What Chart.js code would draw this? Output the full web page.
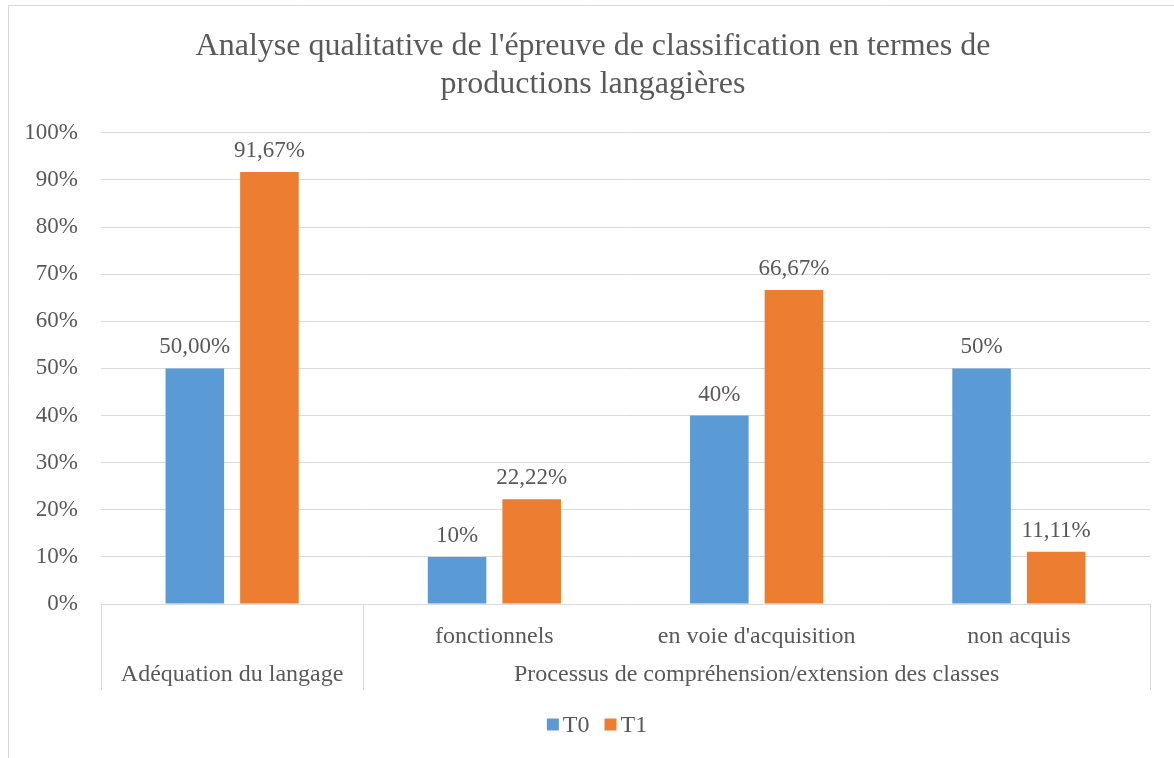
<!DOCTYPE html>
<html>
<head>
<meta charset="utf-8">
<script src="https://cdn.jsdelivr.net/npm/chart.js@4.4.1/dist/chart.umd.min.js"></script>
<style>
  html, body { margin: 0; padding: 0; background: #ffffff; }
  #wrap { width: 1174px; height: 758px; position: relative; }
</style>
</head>
<body>
<div id="wrap"><canvas id="c"></canvas></div>
<script>
const titleLines = ["Analyse qualitative de l'épreuve de classification en termes de", "productions langagières"];
const categories = ["", "fonctionnels", "en voie d'acquisition", "non acquis"];
const seriesNames = ["T0", "T1"];
const t0Values = [50, 10, 40, 50];
const t1Values = [91.67, 22.22, 66.67, 11.11];
const t0Labels = ["50,00%", "10%", "40%", "50%"];
const t1Labels = ["91,67%", "22,22%", "66,67%", "11,11%"];
const groupLabels = ["Adéquation du langage", "Processus de compréhension/extension des classes"];
const groupStart = [0, 1];
const groupEnd = [0, 3];
const yMin = 0, yMax = 100, yStep = 10;

const SERIF = "'Liberation Serif', 'Times New Roman', serif";
const TEXT = '#595959';
const GRID = '#d9d9d9';
const COLORS = ['#5B9BD5', '#ED7D31'];
Chart.defaults.font.family = SERIF;
Chart.defaults.color = TEXT;

const frame = {
  id: 'frame',
  beforeDraw(chart) {
    const ctx = chart.ctx;
    ctx.save();
    ctx.strokeStyle = GRID;
    ctx.lineWidth = 1;
    ctx.beginPath();
    ctx.moveTo(8.5, chart.height);
    ctx.lineTo(8.5, 5.5);
    ctx.lineTo(chart.width, 5.5);
    ctx.stroke();
    ctx.restore();
  }
};

const barLabels = {
  id: 'barLabels',
  afterDatasetsDraw(chart) {
    const ctx = chart.ctx;
    const all = [t0Labels, t1Labels];
    ctx.save();
    ctx.font = "23px " + SERIF;
    ctx.fillStyle = TEXT;
    ctx.textAlign = 'center';
    ctx.textBaseline = 'alphabetic';
    chart.data.datasets.forEach((ds, di) => {
      const meta = chart.getDatasetMeta(di);
      meta.data.forEach((el, i) => {
        ctx.fillText(all[di][i], el.x, el.y - 15);
      });
    });
    ctx.restore();
  }
};

const groups = {
  id: 'groups',
  afterDraw(chart) {
    const xs = chart.scales.x;
    const ctx = chart.ctx;
    const n = categories.length;
    const cw = (xs.right - xs.left) / n;
    const top = chart.chartArea.bottom;
    const bottom = top + 86;
    ctx.save();
    ctx.strokeStyle = GRID;
    ctx.lineWidth = 1;
    const edges = new Set();
    for (let g = 0; g < groupLabels.length; g++) {
      const l = xs.getPixelForValue(groupStart[g]) - cw / 2;
      const r = xs.getPixelForValue(groupEnd[g]) + cw / 2;
      edges.add(Math.round(l)); edges.add(Math.round(r));
      ctx.font = "24px " + SERIF;
      ctx.fillStyle = TEXT;
      ctx.textAlign = 'center';
      ctx.textBaseline = 'middle';
      ctx.fillText(groupLabels[g], (l + r) / 2, top + 71);
    }
    edges.forEach(x => {
      ctx.beginPath();
      ctx.moveTo(x + 0.5, top);
      ctx.lineTo(x + 0.5, bottom);
      ctx.stroke();
    });
    ctx.restore();
  }
};

const legendBox = {
  id: 'legendBox',
  afterDraw(chart) {
    const ctx = chart.ctx;
    ctx.save();
    ctx.font = "24px " + SERIF;
    const box = 12, gap = 4, spacing = 15;
    const items = chart.data.datasets.map(d => ({ text: d.label, color: d.backgroundColor, w: ctx.measureText(d.label).width }));
    let total = 0;
    items.forEach((it, i) => { total += box + gap + it.w + (i < items.length - 1 ? spacing : 0); });
    const cx = 597, cy = 724.5;
    let x = cx - total / 2;
    ctx.textAlign = 'left';
    ctx.textBaseline = 'middle';
    items.forEach(it => {
      ctx.fillStyle = it.color;
      ctx.fillRect(x, cy - box / 2, box, box);
      x += box + gap;
      ctx.fillStyle = TEXT;
      ctx.fillText(it.text, x, cy + 1);
      x += it.w + spacing;
    });
    ctx.restore();
  }
};

new Chart(document.getElementById('c'), {
  type: 'bar',
  data: {
    labels: categories,
    datasets: [
      { label: seriesNames[0], data: t0Values, backgroundColor: COLORS[0], categoryPercentage: 0.569, barPercentage: 0.785 },
      { label: seriesNames[1], data: t1Values, backgroundColor: COLORS[1], categoryPercentage: 0.569, barPercentage: 0.785 }
    ]
  },
  plugins: [frame, barLabels, groups, legendBox],
  options: {
    responsive: true,
    maintainAspectRatio: false,
    animation: false,
    layout: { padding: { left: 12, right: 0, top: 0, bottom: 68 } },
    plugins: {
      title: {
        display: true,
        text: titleLines,
        color: TEXT,
        font: { size: 32, weight: 'normal', family: SERIF, lineHeight: 1.17 },
        padding: { top: 28, bottom: 30 }
      },
      legend: { display: false },
      tooltip: { enabled: false }
    },
    scales: {
      x: {
        offset: true,
        grid: { display: false },
        border: { display: false },
        ticks: { font: { size: 24, family: SERIF }, color: TEXT, padding: 10, autoSkip: false, maxRotation: 0 },
        afterFit(s) { s.height = 86; }
      },
      y: {
        min: yMin, max: yMax,
        border: { display: false },
        grid: { color: GRID, drawTicks: false },
        ticks: { stepSize: yStep, padding: 23, font: { size: 23, family: SERIF }, color: TEXT, callback: v => v + '%' },
        afterFit(s) { s.width = 89; }
      },
      y2: {
        position: 'right',
        display: true,
        grid: { display: false },
        border: { display: false },
        ticks: { display: false },
        afterFit(s) { s.width = 24; }
      }
    }
  }
});
</script>
</body>
</html>
